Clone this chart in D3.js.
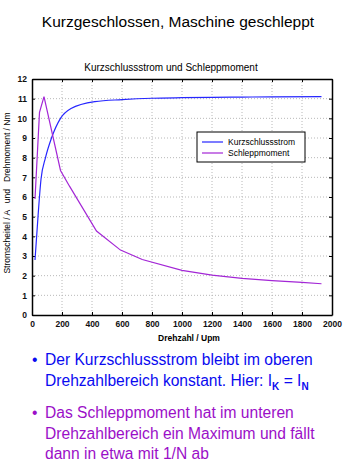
<!DOCTYPE html>
<html lang="de">
<head>
<meta charset="UTF-8" />
<title>Kurzgeschlossen, Maschine geschleppt</title>
<script src="https://d3js.org/d3.v7.min.js"></script>
<style>
  body { margin: 0; background: #fff; }
  svg text { font-family: Arial, "Liberation Sans", sans-serif; }
  .grid line { stroke: #b8b8b8; stroke-dasharray: 1,2; }
  .tick-label { font-size: 8.5px; font-weight: bold; fill: #111; }
</style>
</head>
<body>
<svg width="363" height="465"></svg>
<script>
// Drehzahl (Upm) und Messwerte
const rpmStrom = [20, 40, 60, 90, 130, 190, 260, 420, 600, 800, 1000, 1200, 1400, 1600, 1930];
const strom    = [2.8, 5.0, 6.9, 8.0, 9.0, 10.0, 10.5, 10.85, 10.95, 11.02, 11.05, 11.07, 11.08, 11.09, 11.1];

const rpmMoment = [20, 50, 80, 190, 250, 430, 590, 735, 1000, 1200, 1400, 1600, 1800, 1930];
const moment    = [5.9, 10.3, 11.1, 7.35, 6.55, 4.27, 3.3, 2.82, 2.27, 2.03, 1.86, 1.75, 1.66, 1.59];

const xTicks = [0, 200, 400, 600, 800, 1000, 1200, 1400, 1600, 1800, 2000];
const yTicks = [0, 1, 2, 3, 4, 5, 6, 7, 8, 9, 10, 11, 12];
const legendNames = ["Kurzschlussstrom", "Schleppmoment"];
const colors = ["#2626ff", "#a326d6"];

const svg = d3.select("svg");
const pLeft = 32, pRight = 332, pTop = 79, pBottom = 315;

const x = d3.scaleLinear().domain([0, 2000]).range([pLeft, pRight]);
const y = d3.scaleLinear().domain([0, 12]).range([pBottom, pTop]);

// Titel
svg.append("text").attr("x", 178).attr("y", 27).attr("text-anchor", "middle")
  .style("font-size", "15.5px").text("Kurzgeschlossen, Maschine geschleppt");
svg.append("text").attr("x", 171).attr("y", 71).attr("text-anchor", "middle")
  .style("font-size", "10px").text("Kurzschlussstrom und Schleppmoment");

// Gitter
const grid = svg.append("g").attr("class", "grid");
grid.selectAll(".gx").data(xTicks.slice(1, -1)).enter().append("line")
  .attr("x1", d => x(d)).attr("x2", d => x(d)).attr("y1", pTop).attr("y2", pBottom);
grid.selectAll(".gy").data(yTicks.slice(1, -1)).enter().append("line")
  .attr("y1", d => y(d)).attr("y2", d => y(d)).attr("x1", pLeft).attr("x2", pRight);

// Achsen (Ticks nach innen)
svg.append("g").attr("transform", `translate(0,${pBottom})`)
  .call(d3.axisBottom(x).tickValues(xTicks).tickFormat(d3.format("d"))
    .tickSizeInner(-3).tickSizeOuter(0).tickPadding(6))
  .call(g => g.selectAll("text").attr("class", "tick-label"));
svg.append("g").attr("transform", `translate(0,${pTop})`)
  .call(d3.axisTop(x).tickValues(xTicks).tickSizeInner(-3).tickSizeOuter(0).tickFormat(""));
svg.append("g").attr("transform", `translate(${pLeft},0)`)
  .call(d3.axisLeft(y).tickValues(yTicks).tickSizeInner(-3).tickSizeOuter(0).tickPadding(5))
  .call(g => g.selectAll("text").attr("class", "tick-label"));
svg.append("g").attr("transform", `translate(${pRight},0)`)
  .call(d3.axisRight(y).tickValues(yTicks).tickSizeInner(-3).tickSizeOuter(0).tickFormat(""));
svg.selectAll(".domain").attr("stroke", "#000").attr("stroke-width", 1.5);
svg.selectAll(".tick line").attr("stroke", "#000");

// Achsenbeschriftungen
svg.append("text").attr("x", 189).attr("y", 341).attr("text-anchor", "middle")
  .style("font-size", "8.5px").style("font-weight", "bold").text("Drehzahl / Upm");
svg.append("text").attr("transform", "translate(10,193) rotate(-90)").attr("text-anchor", "middle")
  .style("font-size", "8.5px")
  .attr("xml:space", "preserve").text("Stromscheitel / A   und   Drehmoment / Nm");

// Kurven
const lineSmooth = d3.line().x(d => x(d[0])).y(d => y(d[1])).curve(d3.curveMonotoneX);
const line = d3.line().x(d => x(d[0])).y(d => y(d[1]));
svg.append("path").datum(d3.zip(rpmStrom, strom)).attr("d", lineSmooth)
  .attr("fill", "none").attr("stroke", colors[0]).attr("stroke-width", 1.2);
svg.append("path").datum(d3.zip(rpmMoment, moment)).attr("d", line)
  .attr("fill", "none").attr("stroke", colors[1]).attr("stroke-width", 1.2);

// Legende
const lg = svg.append("g").attr("transform", "translate(197,132)");
lg.append("rect").attr("width", 108).attr("height", 30).attr("fill", "#fff")
  .attr("stroke", "#000").attr("stroke-width", 1);
legendNames.forEach((name, i) => {
  lg.append("line").attr("x1", 5).attr("x2", 26).attr("y1", 10 + i * 11).attr("y2", 10 + i * 11)
    .attr("stroke", colors[i]).attr("stroke-width", 1.2);
  lg.append("text").attr("x", 31).attr("y", 13 + i * 11).style("font-size", "8.5px")
    .text(name);
});

// Aufzählung
const bullets = svg.append("g").style("font-size", "15.6px");
function bulletLine(txt, yy, col, withDot) {
  if (withDot) bullets.append("text").attr("x", 32).attr("y", yy).attr("fill", col).text("•");
  return bullets.append("text").attr("x", 45).attr("y", yy).attr("fill", col).text(txt);
}
bulletLine("Der Kurzschlussstrom bleibt im oberen", 365, "#0a0af0", true);
const t2 = bulletLine("Drehzahlbereich konstant. Hier: I", 386, "#0a0af0", false);
t2.append("tspan").attr("dy", 4).style("font-size", "10px").style("font-weight", "bold").text("K");
t2.append("tspan").attr("dy", -4).text(" = I");
t2.append("tspan").attr("dy", 4).style("font-size", "10px").style("font-weight", "bold").text("N");
bulletLine("Das Schleppmoment hat im unteren", 418, "#9b0fc8", true);
bulletLine("Drehzahlbereich ein Maximum und fällt", 439, "#9b0fc8", false);
bulletLine("dann in etwa mit 1/N ab", 459, "#9b0fc8", false);
</script>
</body>
</html>
